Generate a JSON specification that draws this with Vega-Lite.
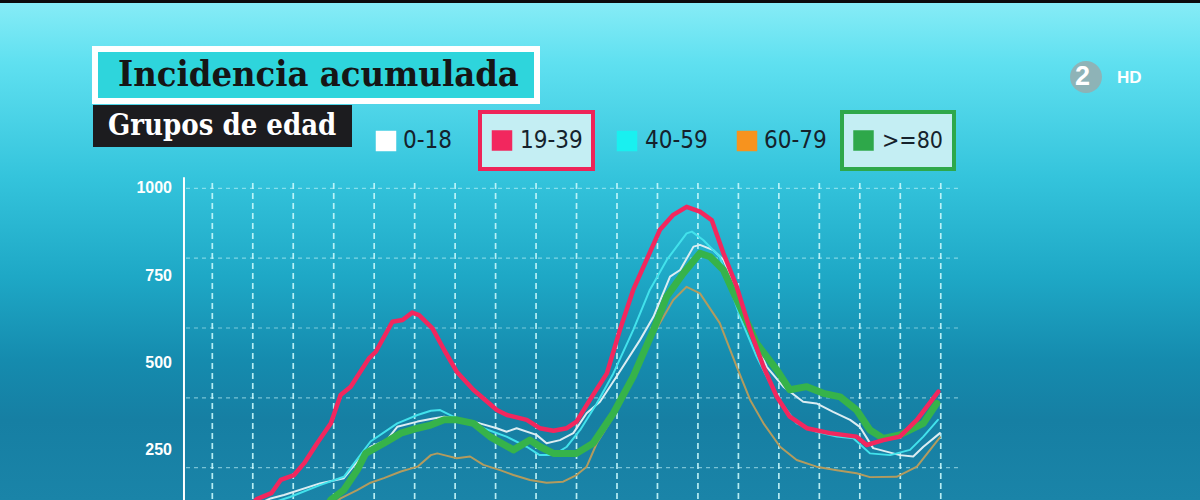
{
  "$schema": "https://vega.github.io/schema/vega-lite/v6.json",
  "autosize": {"type": "none"},
  "width": 1200,
  "height": 497,
  "padding": {"top": 3, "left": 0, "right": 0, "bottom": 0},
  "background": "#0b0b0b",
  "config": {
    "view": {
      "stroke": null,
      "fill": {
        "gradient": "linear", "x1": 0, "y1": 0, "x2": 0, "y2": 1,
        "stops": [
          {"offset": 0, "color": "#86ecf6"},
          {"offset": 0.12, "color": "#5fe0f0"},
          {"offset": 0.35, "color": "#34c4dc"},
          {"offset": 0.55, "color": "#1ea8c6"},
          {"offset": 0.72, "color": "#158bae"},
          {"offset": 0.84, "color": "#167fa3"},
          {"offset": 1, "color": "#1a84a8"}
        ]
      }
    },
    "legend": {
      "orient": "none",
      "title": null,
      "labelLimit": 1000,
      "symbolType": "square",
      "symbolStrokeWidth": 0
    }
  },
  "datasets": {
    "series": [
      {"t": 2.78, "grupo": "60-79", "v": 79}, {"t": 3.17, "grupo": "60-79", "v": 112}, {"t": 3.58, "grupo": "60-79", "v": 136},
      {"t": 3.91, "grupo": "60-79", "v": 157}, {"t": 4.24, "grupo": "60-79", "v": 170}, {"t": 4.66, "grupo": "60-79", "v": 189},
      {"t": 5.07, "grupo": "60-79", "v": 203}, {"t": 5.40, "grupo": "60-79", "v": 236}, {"t": 5.56, "grupo": "60-79", "v": 241},
      {"t": 5.73, "grupo": "60-79", "v": 236}, {"t": 6.04, "grupo": "60-79", "v": 227}, {"t": 6.37, "grupo": "60-79", "v": 232},
      {"t": 6.70, "grupo": "60-79", "v": 208}, {"t": 7.11, "grupo": "60-79", "v": 193}, {"t": 7.44, "grupo": "60-79", "v": 179},
      {"t": 7.85, "grupo": "60-79", "v": 165}, {"t": 8.26, "grupo": "60-79", "v": 157}, {"t": 8.67, "grupo": "60-79", "v": 160},
      {"t": 9.00, "grupo": "60-79", "v": 179}, {"t": 9.25, "grupo": "60-79", "v": 203}, {"t": 9.50, "grupo": "60-79", "v": 270},
      {"t": 9.91, "grupo": "60-79", "v": 346}, {"t": 10.32, "grupo": "60-79", "v": 451}, {"t": 10.73, "grupo": "60-79", "v": 547},
      {"t": 11.06, "grupo": "60-79", "v": 614}, {"t": 11.39, "grupo": "60-79", "v": 680}, {"t": 11.72, "grupo": "60-79", "v": 718},
      {"t": 12.05, "grupo": "60-79", "v": 699}, {"t": 12.54, "grupo": "60-79", "v": 614}, {"t": 12.96, "grupo": "60-79", "v": 489},
      {"t": 13.29, "grupo": "60-79", "v": 394}, {"t": 13.62, "grupo": "60-79", "v": 327}, {"t": 14.03, "grupo": "60-79", "v": 260},
      {"t": 14.44, "grupo": "60-79", "v": 222}, {"t": 14.93, "grupo": "60-79", "v": 203}, {"t": 15.43, "grupo": "60-79", "v": 193},
      {"t": 15.92, "grupo": "60-79", "v": 184}, {"t": 16.25, "grupo": "60-79", "v": 173}, {"t": 16.91, "grupo": "60-79", "v": 174},
      {"t": 17.41, "grupo": "60-79", "v": 203}, {"t": 17.98, "grupo": "60-79", "v": 287},

      {"t": 0.93, "grupo": "0-18", "v": 85}, {"t": 1.44, "grupo": "0-18", "v": 112}, {"t": 1.77, "grupo": "0-18", "v": 122},
      {"t": 2.66, "grupo": "0-18", "v": 155}, {"t": 3.25, "grupo": "0-18", "v": 170}, {"t": 3.48, "grupo": "0-18", "v": 203},
      {"t": 3.91, "grupo": "0-18", "v": 260}, {"t": 4.31, "grupo": "0-18", "v": 279}, {"t": 4.57, "grupo": "0-18", "v": 317},
      {"t": 5.07, "grupo": "0-18", "v": 332}, {"t": 5.46, "grupo": "0-18", "v": 341}, {"t": 5.73, "grupo": "0-18", "v": 346},
      {"t": 6.12, "grupo": "0-18", "v": 337}, {"t": 6.61, "grupo": "0-18", "v": 327}, {"t": 7.03, "grupo": "0-18", "v": 313},
      {"t": 7.27, "grupo": "0-18", "v": 303}, {"t": 7.52, "grupo": "0-18", "v": 313}, {"t": 8.01, "grupo": "0-18", "v": 294},
      {"t": 8.26, "grupo": "0-18", "v": 270}, {"t": 8.59, "grupo": "0-18", "v": 279}, {"t": 8.92, "grupo": "0-18", "v": 299},
      {"t": 9.25, "grupo": "0-18", "v": 356}, {"t": 9.58, "grupo": "0-18", "v": 389}, {"t": 9.99, "grupo": "0-18", "v": 461},
      {"t": 10.57, "grupo": "0-18", "v": 566}, {"t": 10.90, "grupo": "0-18", "v": 632}, {"t": 11.31, "grupo": "0-18", "v": 747},
      {"t": 11.56, "grupo": "0-18", "v": 766}, {"t": 11.89, "grupo": "0-18", "v": 833}, {"t": 12.05, "grupo": "0-18", "v": 838},
      {"t": 12.38, "grupo": "0-18", "v": 823}, {"t": 12.63, "grupo": "0-18", "v": 795}, {"t": 12.96, "grupo": "0-18", "v": 709},
      {"t": 13.29, "grupo": "0-18", "v": 594}, {"t": 13.70, "grupo": "0-18", "v": 489}, {"t": 14.11, "grupo": "0-18", "v": 432},
      {"t": 14.60, "grupo": "0-18", "v": 389}, {"t": 14.93, "grupo": "0-18", "v": 384}, {"t": 15.34, "grupo": "0-18", "v": 360},
      {"t": 15.76, "grupo": "0-18", "v": 337}, {"t": 16.00, "grupo": "0-18", "v": 317}, {"t": 16.33, "grupo": "0-18", "v": 256},
      {"t": 16.99, "grupo": "0-18", "v": 236}, {"t": 17.32, "grupo": "0-18", "v": 232}, {"t": 17.57, "grupo": "0-18", "v": 260},
      {"t": 17.98, "grupo": "0-18", "v": 299},

      {"t": 1.23, "grupo": "40-59", "v": 90}, {"t": 1.92, "grupo": "40-59", "v": 116}, {"t": 2.66, "grupo": "40-59", "v": 150},
      {"t": 3.25, "grupo": "40-59", "v": 174}, {"t": 3.91, "grupo": "40-59", "v": 275}, {"t": 4.57, "grupo": "40-59", "v": 327},
      {"t": 5.07, "grupo": "40-59", "v": 351}, {"t": 5.40, "grupo": "40-59", "v": 363}, {"t": 5.63, "grupo": "40-59", "v": 365},
      {"t": 6.12, "grupo": "40-59", "v": 337}, {"t": 6.70, "grupo": "40-59", "v": 313}, {"t": 7.27, "grupo": "40-59", "v": 289},
      {"t": 7.77, "grupo": "40-59", "v": 260}, {"t": 8.09, "grupo": "40-59", "v": 236}, {"t": 8.43, "grupo": "40-59", "v": 236},
      {"t": 8.76, "grupo": "40-59", "v": 260}, {"t": 9.09, "grupo": "40-59", "v": 308}, {"t": 9.50, "grupo": "40-59", "v": 384},
      {"t": 9.91, "grupo": "40-59", "v": 470}, {"t": 10.40, "grupo": "40-59", "v": 594}, {"t": 10.81, "grupo": "40-59", "v": 709},
      {"t": 11.23, "grupo": "40-59", "v": 795}, {"t": 11.72, "grupo": "40-59", "v": 871}, {"t": 11.85, "grupo": "40-59", "v": 876},
      {"t": 12.13, "grupo": "40-59", "v": 852}, {"t": 12.54, "grupo": "40-59", "v": 804}, {"t": 13.04, "grupo": "40-59", "v": 632},
      {"t": 13.45, "grupo": "40-59", "v": 518}, {"t": 13.95, "grupo": "40-59", "v": 403}, {"t": 14.44, "grupo": "40-59", "v": 327},
      {"t": 14.93, "grupo": "40-59", "v": 303}, {"t": 15.43, "grupo": "40-59", "v": 289}, {"t": 15.84, "grupo": "40-59", "v": 284},
      {"t": 16.25, "grupo": "40-59", "v": 241}, {"t": 16.75, "grupo": "40-59", "v": 236}, {"t": 17.24, "grupo": "40-59", "v": 251},
      {"t": 17.57, "grupo": "40-59", "v": 289}, {"t": 17.93, "grupo": "40-59", "v": 337},

      {"t": 2.61, "grupo": ">=80", "v": 50}, {"t": 2.93, "grupo": ">=80", "v": 108}, {"t": 3.25, "grupo": ">=80", "v": 136},
      {"t": 3.58, "grupo": ">=80", "v": 193}, {"t": 3.79, "grupo": ">=80", "v": 241}, {"t": 4.24, "grupo": ">=80", "v": 270},
      {"t": 4.66, "grupo": ">=80", "v": 299}, {"t": 5.07, "grupo": ">=80", "v": 313}, {"t": 5.40, "grupo": ">=80", "v": 322},
      {"t": 5.73, "grupo": ">=80", "v": 337}, {"t": 6.04, "grupo": ">=80", "v": 337}, {"t": 6.45, "grupo": ">=80", "v": 327},
      {"t": 6.86, "grupo": ">=80", "v": 289}, {"t": 7.44, "grupo": ">=80", "v": 251}, {"t": 7.85, "grupo": ">=80", "v": 279},
      {"t": 8.10, "grupo": ">=80", "v": 260}, {"t": 8.43, "grupo": ">=80", "v": 241}, {"t": 9.00, "grupo": ">=80", "v": 241},
      {"t": 9.41, "grupo": ">=80", "v": 270}, {"t": 9.91, "grupo": ">=80", "v": 356}, {"t": 10.40, "grupo": ">=80", "v": 461},
      {"t": 10.90, "grupo": ">=80", "v": 594}, {"t": 11.23, "grupo": ">=80", "v": 690}, {"t": 11.64, "grupo": ">=80", "v": 757},
      {"t": 12.05, "grupo": ">=80", "v": 814}, {"t": 12.30, "grupo": ">=80", "v": 804}, {"t": 12.63, "grupo": ">=80", "v": 766},
      {"t": 13.04, "grupo": ">=80", "v": 661}, {"t": 13.45, "grupo": ">=80", "v": 556}, {"t": 13.95, "grupo": ">=80", "v": 480},
      {"t": 14.27, "grupo": ">=80", "v": 423}, {"t": 14.69, "grupo": ">=80", "v": 432}, {"t": 15.10, "grupo": ">=80", "v": 413},
      {"t": 15.51, "grupo": ">=80", "v": 403}, {"t": 15.92, "grupo": ">=80", "v": 365}, {"t": 16.25, "grupo": ">=80", "v": 308},
      {"t": 16.58, "grupo": ">=80", "v": 284}, {"t": 16.99, "grupo": ">=80", "v": 294}, {"t": 17.57, "grupo": ">=80", "v": 327},
      {"t": 17.90, "grupo": ">=80", "v": 384},

      {"t": 0.81, "grupo": "19-39", "v": 73}, {"t": 1.10, "grupo": "19-39", "v": 110}, {"t": 1.46, "grupo": "19-39", "v": 127},
      {"t": 1.69, "grupo": "19-39", "v": 165}, {"t": 2.02, "grupo": "19-39", "v": 179}, {"t": 2.27, "grupo": "19-39", "v": 213},
      {"t": 2.59, "grupo": "19-39", "v": 270}, {"t": 2.93, "grupo": "19-39", "v": 327}, {"t": 3.17, "grupo": "19-39", "v": 408},
      {"t": 3.42, "grupo": "19-39", "v": 432}, {"t": 3.87, "grupo": "19-39", "v": 513}, {"t": 4.04, "grupo": "19-39", "v": 532},
      {"t": 4.45, "grupo": "19-39", "v": 618}, {"t": 4.70, "grupo": "19-39", "v": 623}, {"t": 4.94, "grupo": "19-39", "v": 644},
      {"t": 5.11, "grupo": "19-39", "v": 637}, {"t": 5.44, "grupo": "19-39", "v": 599}, {"t": 5.73, "grupo": "19-39", "v": 537},
      {"t": 6.04, "grupo": "19-39", "v": 475}, {"t": 6.45, "grupo": "19-39", "v": 423}, {"t": 7.03, "grupo": "19-39", "v": 365},
      {"t": 7.28, "grupo": "19-39", "v": 351}, {"t": 7.77, "grupo": "19-39", "v": 337}, {"t": 8.09, "grupo": "19-39", "v": 313},
      {"t": 8.43, "grupo": "19-39", "v": 306}, {"t": 8.76, "grupo": "19-39", "v": 313}, {"t": 9.00, "grupo": "19-39", "v": 332},
      {"t": 9.33, "grupo": "19-39", "v": 394}, {"t": 9.75, "grupo": "19-39", "v": 470}, {"t": 10.07, "grupo": "19-39", "v": 594},
      {"t": 10.40, "grupo": "19-39", "v": 709}, {"t": 10.73, "grupo": "19-39", "v": 795}, {"t": 11.06, "grupo": "19-39", "v": 881},
      {"t": 11.39, "grupo": "19-39", "v": 924}, {"t": 11.72, "grupo": "19-39", "v": 947}, {"t": 12.05, "grupo": "19-39", "v": 933},
      {"t": 12.34, "grupo": "19-39", "v": 909}, {"t": 12.63, "grupo": "19-39", "v": 814}, {"t": 12.96, "grupo": "19-39", "v": 718},
      {"t": 13.29, "grupo": "19-39", "v": 594}, {"t": 13.62, "grupo": "19-39", "v": 489}, {"t": 13.95, "grupo": "19-39", "v": 403},
      {"t": 14.27, "grupo": "19-39", "v": 346}, {"t": 14.69, "grupo": "19-39", "v": 313}, {"t": 15.26, "grupo": "19-39", "v": 299},
      {"t": 15.92, "grupo": "19-39", "v": 289}, {"t": 16.17, "grupo": "19-39", "v": 265}, {"t": 16.58, "grupo": "19-39", "v": 279},
      {"t": 16.99, "grupo": "19-39", "v": 289}, {"t": 17.41, "grupo": "19-39", "v": 337}, {"t": 17.94, "grupo": "19-39", "v": 418}
    ],
    "vx": [
      {"t": 0}, {"t": 1}, {"t": 2}, {"t": 3}, {"t": 4}, {"t": 5}, {"t": 6}, {"t": 7}, {"t": 8}, {"t": 9},
      {"t": 10}, {"t": 11}, {"t": 12}, {"t": 13}, {"t": 14}, {"t": 15}, {"t": 16}, {"t": 17}, {"t": 18}
    ],
    "hy": [{"v": 200}, {"v": 400}, {"v": 600}, {"v": 800}, {"v": 1000}],
    "ticks": [{"v": 250}, {"v": 500}, {"v": 750}, {"v": 1000}]
  },
  "layer": [
    {
      "data": {"name": "vx"},
      "mark": {"type": "rule", "strokeWidth": 1.7, "strokeDash": [6, 4], "opacity": 0.9},
      "encoding": {
        "x": {"field": "t", "type": "quantitative", "axis": null, "scale": {"domain": [-5.246, 24.406], "nice": false, "zero": false}},
        "y": {"datum": 1015, "type": "quantitative", "axis": null, "scale": {"domain": [107.5, 1530.6], "nice": false, "zero": false}},
        "y2": {"datum": 107.5},
        "color": {
          "datum": "Incidencia acumulada",
          "scale": {"range": ["#c8f8fc"]},
          "legend": {
            "legendX": 95, "legendY": 46,
            "padding": 8,
            "fillColor": "#2ed5dc",
            "strokeColor": "#ffffff",
            "symbolSize": 196,
            "symbolOpacity": 0,
            "labelOffset": -21,
            "labelFont": "DejaVu Serif Condensed, DejaVu Serif",
            "labelFontSize": 36,
            "labelFontWeight": "bold",
            "labelColor": "#161616",
            "title": "--",
            "titleOrient": "right",
            "titleOpacity": 0,
            "titleFontSize": 10,
            "titlePadding": 3,
            "encode": {"legend": {"update": {"strokeWidth": {"value": 6}}}}
          }
        }
      }
    },
    {
      "data": {"name": "hy"},
      "mark": {"type": "rule", "strokeWidth": 1.2, "strokeDash": [4, 4], "opacity": 0.55},
      "encoding": {
        "y": {"field": "v", "type": "quantitative", "axis": null, "scale": {"domain": [107.5, 1530.6], "nice": false, "zero": false}},
        "x": {"datum": -0.65, "type": "quantitative", "axis": null, "scale": {"domain": [-5.246, 24.406], "nice": false, "zero": false}},
        "x2": {"datum": 18.5},
        "color": {
          "datum": "Grupos de edad",
          "scale": {"range": ["#c8f8fc"]},
          "legend": {
            "legendX": 93, "legendY": 102,
            "padding": 6,
            "fillColor": "#1c1c1f",
            "symbolSize": 81,
            "symbolOpacity": 0,
            "labelOffset": -20,
            "labelFont": "DejaVu Serif Condensed, DejaVu Serif",
            "labelFontSize": 29,
            "labelFontWeight": "bold",
            "labelColor": "#ffffff",
            "title": "--",
            "titleOrient": "right",
            "titleOpacity": 0,
            "titleFontSize": 10,
            "titlePadding": 3
          }
        }
      }
    },
    {
      "data": {"values": [{}]},
      "mark": {"type": "rule", "strokeWidth": 2},
      "encoding": {
        "x": {"datum": -0.7, "type": "quantitative", "axis": null, "scale": {"domain": [-5.246, 24.406], "nice": false, "zero": false}},
        "y": {"datum": 1032, "type": "quantitative", "axis": null, "scale": {"domain": [107.5, 1530.6], "nice": false, "zero": false}},
        "y2": {"datum": 107.5},
        "color": {
          "datum": "2",
          "scale": {"range": ["#ffffff"]},
          "legend": {
            "legendX": 1070, "legendY": 58,
            "symbolType": "circle",
            "symbolSize": 1018,
            "labelOffset": -27,
            "labelFont": "Liberation Sans",
            "labelFontSize": 27,
            "labelFontWeight": "bold",
            "labelColor": "#ffffff",
            "encode": {"symbols": {"update": {"fill": {"value": "#93aeb0"}, "stroke": {"value": "transparent"}, "opacity": {"value": 0.9}}}}
          }
        },
        "strokeDash": {
          "datum": "HD",
          "scale": {"range": [[1, 0]]},
          "legend": {
            "legendX": 1100, "legendY": 66,
            "symbolSize": 0,
            "symbolOpacity": 0,
            "labelOffset": 0,
            "labelFont": "Liberation Sans",
            "labelFontSize": 17,
            "labelFontWeight": "bold",
            "labelColor": "#ffffff"
          }
        }
      }
    },
    {
      "data": {"name": "ticks"},
      "mark": {"type": "text", "align": "right", "baseline": "middle", "font": "Liberation Sans", "fontSize": 16, "fontWeight": "bold", "color": "#ffffff"},
      "encoding": {
        "x": {"datum": -0.996, "type": "quantitative", "axis": null, "scale": {"domain": [-5.246, 24.406], "nice": false, "zero": false}},
        "y": {"field": "v", "type": "quantitative", "axis": null, "scale": {"domain": [107.5, 1530.6], "nice": false, "zero": false}},
        "text": {"field": "v", "type": "quantitative"}
      }
    },
    {
      "data": {"name": "series"},
      "transform": [{"filter": "datum.grupo === '60-79'"}],
      "mark": {"type": "line", "strokeWidth": 2, "strokeJoin": "round", "strokeCap": "round"},
      "encoding": {
        "x": {"field": "t", "type": "quantitative", "axis": null, "scale": {"domain": [-5.246, 24.406], "nice": false, "zero": false}},
        "y": {"field": "v", "type": "quantitative", "axis": null, "scale": {"domain": [107.5, 1530.6], "nice": false, "zero": false}},
        "color": {
          "datum": "60-79",
          "scale": {"range": ["#b39b5e"]},
          "legend": {
            "legendX": 735, "legendY": 126,
            "symbolSize": 420, "labelOffset": 5,
            "labelFont": "DejaVu Sans Condensed, DejaVu Sans", "labelFontSize": 24, "labelColor": "#15222c",
            "encode": {"symbols": {"update": {"fill": {"value": "#f7931e"}, "stroke": {"value": "transparent"}, "opacity": {"value": 1}}}}
          }
        }
      }
    },
    {
      "data": {"name": "series"},
      "transform": [{"filter": "datum.grupo === '0-18'"}],
      "mark": {"type": "line", "strokeWidth": 2, "strokeJoin": "round", "strokeCap": "round"},
      "encoding": {
        "x": {"field": "t", "type": "quantitative", "axis": null, "scale": {"domain": [-5.246, 24.406], "nice": false, "zero": false}},
        "y": {"field": "v", "type": "quantitative", "axis": null, "scale": {"domain": [107.5, 1530.6], "nice": false, "zero": false}},
        "color": {
          "datum": "0-18",
          "scale": {"range": ["#dcedf2"]},
          "legend": {
            "legendX": 374, "legendY": 126,
            "symbolSize": 420, "labelOffset": 5,
            "labelFont": "DejaVu Sans Condensed, DejaVu Sans", "labelFontSize": 24, "labelColor": "#15222c",
            "encode": {"symbols": {"update": {"fill": {"value": "#ffffff"}, "stroke": {"value": "transparent"}, "opacity": {"value": 1}}}}
          }
        }
      }
    },
    {
      "data": {"name": "series"},
      "transform": [{"filter": "datum.grupo === '40-59'"}],
      "mark": {"type": "line", "strokeWidth": 2, "strokeJoin": "round", "strokeCap": "round"},
      "encoding": {
        "x": {"field": "t", "type": "quantitative", "axis": null, "scale": {"domain": [-5.246, 24.406], "nice": false, "zero": false}},
        "y": {"field": "v", "type": "quantitative", "axis": null, "scale": {"domain": [107.5, 1530.6], "nice": false, "zero": false}},
        "color": {
          "datum": "40-59",
          "scale": {"range": ["#42e2ec"]},
          "legend": {
            "legendX": 615, "legendY": 126,
            "symbolSize": 420, "labelOffset": 6,
            "labelFont": "DejaVu Sans Condensed, DejaVu Sans", "labelFontSize": 24, "labelColor": "#15222c",
            "encode": {"symbols": {"update": {"fill": {"value": "#19f0f0"}, "stroke": {"value": "transparent"}, "opacity": {"value": 1}}}}
          }
        }
      }
    },
    {
      "data": {"name": "series"},
      "transform": [{"filter": "datum.grupo === '>=80'"}],
      "mark": {"type": "line", "strokeWidth": 7, "strokeJoin": "round", "strokeCap": "round"},
      "encoding": {
        "x": {"field": "t", "type": "quantitative", "axis": null, "scale": {"domain": [-5.246, 24.406], "nice": false, "zero": false}},
        "y": {"field": "v", "type": "quantitative", "axis": null, "scale": {"domain": [107.5, 1530.6], "nice": false, "zero": false}},
        "color": {
          "datum": ">=80",
          "scale": {"range": ["#36b34a"]},
          "legend": {
            "legendX": 842, "legendY": 109,
            "padding": 10,
            "clipHeight": 37,
            "fillColor": "#c4eef3",
            "strokeColor": "#2ea84a",
            "symbolSize": 420, "labelOffset": 7,
            "labelFont": "DejaVu Sans Condensed, DejaVu Sans", "labelFontSize": 23, "labelColor": "#15222c",
            "encode": {
              "legend": {"update": {"strokeWidth": {"value": 4}}},
              "symbols": {"update": {"fill": {"value": "#2ea84a"}, "stroke": {"value": "transparent"}, "opacity": {"value": 1}}}
            }
          }
        }
      }
    },
    {
      "data": {"name": "series"},
      "transform": [{"filter": "datum.grupo === '19-39'"}],
      "mark": {"type": "line", "strokeWidth": 4.5, "strokeJoin": "round", "strokeCap": "round"},
      "encoding": {
        "x": {"field": "t", "type": "quantitative", "axis": null, "scale": {"domain": [-5.246, 24.406], "nice": false, "zero": false}},
        "y": {"field": "v", "type": "quantitative", "axis": null, "scale": {"domain": [107.5, 1530.6], "nice": false, "zero": false}},
        "color": {
          "datum": "19-39",
          "scale": {"range": ["#f2275e"]},
          "legend": {
            "legendX": 480, "legendY": 109,
            "padding": 10,
            "clipHeight": 37,
            "fillColor": "#c4eef3",
            "strokeColor": "#ee2458",
            "symbolSize": 420, "labelOffset": 6,
            "labelFont": "DejaVu Sans Condensed, DejaVu Sans", "labelFontSize": 24, "labelColor": "#15222c",
            "encode": {
              "legend": {"update": {"strokeWidth": {"value": 4}}},
              "symbols": {"update": {"fill": {"value": "#f2275e"}, "stroke": {"value": "transparent"}, "opacity": {"value": 1}}}
            }
          }
        }
      }
    }
  ],
  "resolve": {"scale": {"color": "independent"}}
}
